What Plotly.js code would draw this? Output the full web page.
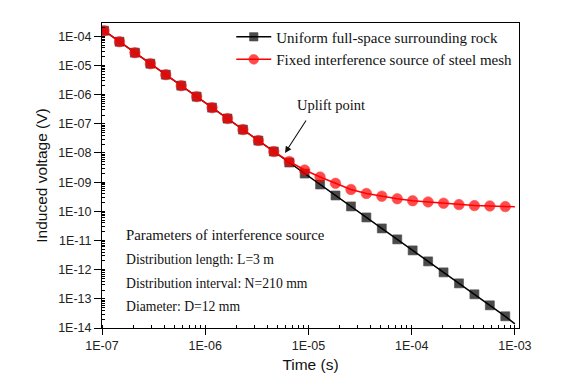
<!DOCTYPE html>
<html>
<head>
<meta charset="utf-8">
<script src="https://cdn.plot.ly/plotly-3.0.1.min.js"></script>
<style>
  html, body { margin: 0; padding: 0; background: #fff; }
  #chart { width: 563px; height: 384px; }
</style>
</head>
<body>
<div id="chart"></div>
<script>
// ==================== DATA ====================

// Sample times (s); first and last entries only carry the line to the frame
const timeS = [
  1.0e-7, 1.047e-7, 1.477e-7, 2.084e-7, 2.940e-7, 4.150e-7, 5.855e-7, 8.260e-7,
  1.165e-6, 1.644e-6, 2.320e-6, 3.273e-6, 4.618e-6, 6.516e-6, 9.194e-6,
  1.297e-5, 1.830e-5, 2.582e-5, 3.643e-5, 5.140e-5, 7.253e-5,
  1.023e-4, 1.444e-4, 2.037e-4, 2.874e-4, 4.055e-4, 5.721e-4, 8.072e-4, 1.0e-3
];

// Uniform full-space surrounding rock (V)
const uniformV = [
  1.72e-4, 1.55e-4, 6.51e-5, 2.74e-5, 1.15e-5, 4.83e-6, 2.03e-6, 8.53e-7,
  3.58e-7, 1.51e-7, 6.33e-8, 2.66e-8, 1.12e-8, 4.70e-9, 1.97e-9,
  8.30e-10, 3.49e-10, 1.47e-10, 6.16e-11, 2.59e-11, 1.09e-11,
  4.57e-12, 1.92e-12, 8.07e-13, 3.39e-13, 1.43e-13, 5.99e-14, 2.52e-14, 1.38e-14
];

// Fixed interference source of steel mesh (V)
const steelMeshV = [
  1.72e-4, 1.55e-4, 6.51e-5, 2.74e-5, 1.15e-5, 4.83e-6, 2.03e-6, 8.53e-7,
  3.58e-7, 1.51e-7, 6.33e-8, 2.66e-8, 1.12e-8, 5.1e-9, 2.6e-9,
  1.5e-9, 9.1e-10, 5.6e-10, 4.1e-10, 3.3e-10, 2.7e-10,
  2.3e-10, 2.1e-10, 1.9e-10, 1.7e-10, 1.57e-10, 1.53e-10, 1.45e-10, 1.42e-10
];

const xTickVals = [1e-7, 1e-6, 1e-5, 1e-4, 1e-3];
const xTickText = ['1E-07', '1E-06', '1E-05', '1E-04', '1E-03'];
const yTickVals = [1e-14, 1e-13, 1e-12, 1e-11, 1e-10, 1e-9, 1e-8, 1e-7, 1e-6, 1e-5, 1e-4];
const yTickText = ['1E-14', '1E-13', '1E-12', '1E-11', '1E-10', '1E-09', '1E-08', '1E-07', '1E-06', '1E-05', '1E-04'];

const paramLines = [
  'Parameters of interference source',
  'Distribution length: L=3 m',
  'Distribution interval: N=210 mm',
  'Diameter: D=12 mm'
];

// ==================== PLOT ====================

const serif = '"Liberation Serif", "Times New Roman", serif';
const sans = '"Liberation Sans", Arial, sans-serif';

// hide the marker on the two end points that only extend the line
function markerSizes(n, size) {
  return timeS.map((t, i) => (i === 0 || i === n - 1) ? 0 : size);
}

const data = [
  {
    type: 'scatter',
    mode: 'lines+markers',
    name: 'Uniform full-space surrounding rock',
    x: timeS,
    y: uniformV,
    line: { color: '#000000', width: 1.5 },
    marker: {
      symbol: 'square', color: '#000000', size: markerSizes(timeS.length, 9),
      line: { color: '#000000', width: 0.6 }
    }
  },
  {
    type: 'scatter',
    mode: 'lines+markers',
    name: 'Fixed interference source of steel mesh',
    x: timeS,
    y: steelMeshV,
    line: { color: '#ff0000', width: 1.5 },
    marker: {
      symbol: 'circle', color: '#ff0000', size: markerSizes(timeS.length, 10.5),
      line: { color: '#ff0000', width: 0.6 }
    }
  }
];

const paramY = [0.305, 0.225, 0.147, 0.070];
const paramSize = [14.8, 13.7, 13.7, 13.7];

const annotations = paramLines.map((txt, i) => ({
  xref: 'paper', yref: 'paper',
  x: 0.052, y: paramY[i],
  xanchor: 'left', yanchor: 'middle',
  text: txt, showarrow: false,
  font: { family: serif, size: paramSize[i], color: '#111' }
}));

annotations.push({
  xref: 'paper', yref: 'paper',
  x: 0.464, y: 0.731,
  xanchor: 'left', yanchor: 'middle',
  text: 'Uplift point', showarrow: false,
  font: { family: serif, size: 14.5, color: '#111' }
});

// arrow pointing at the uplift point (log axes -> log10 coordinates)
annotations.push({
  xref: 'x', yref: 'y',
  x: -5.227, y: -8.0,
  ax: 22, ay: -34,
  text: '', showarrow: true,
  arrowhead: 2, arrowsize: 1.2, arrowwidth: 1.1, arrowcolor: '#111'
});

const layout = {
  width: 563,
  height: 384,
  margin: { l: 102, r: 44, t: 23, b: 56 },
  paper_bgcolor: '#ffffff',
  plot_bgcolor: '#ffffff',
  showlegend: true,
  legend: {
    x: 0.31, y: 1.008,
    xanchor: 'left', yanchor: 'top',
    bgcolor: 'rgba(0,0,0,0)',
    font: { family: serif, size: 15, color: '#111' },
    itemwidth: 35,
    tracegroupgap: 0
  },
  xaxis: {
    type: 'log',
    range: [-7, -2.96],
    tickmode: 'array',
    tickvals: xTickVals,
    ticktext: xTickText,
    ticks: 'outside', ticklen: 6, tickwidth: 1, tickcolor: '#000',
    minor: { dtick: 'D1', ticks: 'inside', ticklen: 3, tickcolor: '#000' },
    showline: true, linecolor: '#000', linewidth: 1, mirror: true,
    showgrid: false, zeroline: false,
    tickfont: { family: sans, size: 12.5, color: '#222' },
    title: { text: 'Time (s)', font: { family: sans, size: 15.5, color: '#111' }, standoff: 7 }
  },
  yaxis: {
    type: 'log',
    range: [-14, -3.545],
    tickmode: 'array',
    tickvals: yTickVals,
    ticktext: yTickText,
    ticks: 'outside', ticklen: 7, tickwidth: 1, tickcolor: '#000',
    minor: { dtick: 'D1', ticks: 'inside', ticklen: 3, tickcolor: '#000' },
    showline: true, linecolor: '#000', linewidth: 1, mirror: true,
    showgrid: false, zeroline: false,
    tickfont: { family: sans, size: 12.5, color: '#222' },
    title: { text: 'Induced voltage (V)', font: { family: sans, size: 15.5, color: '#111' }, standoff: 6 }
  },
  annotations: annotations
};

Plotly.newPlot('chart', data, layout, { displayModeBar: false, staticPlot: true });
</script>
</body>
</html>
